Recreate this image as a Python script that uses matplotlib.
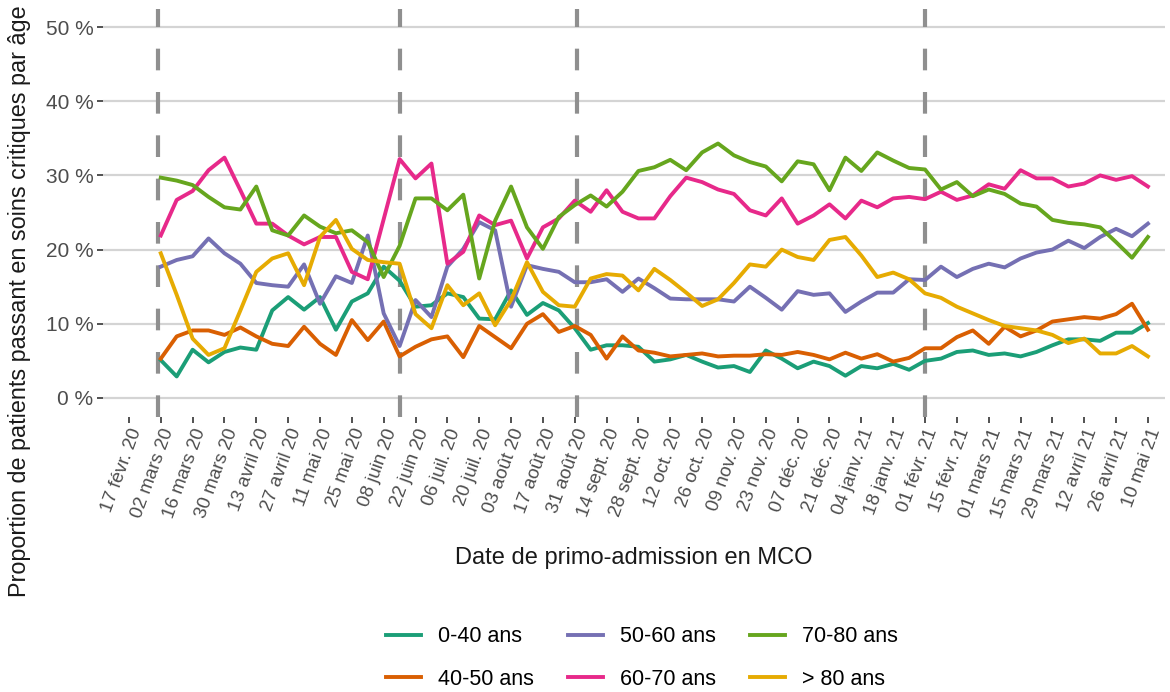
import matplotlib
matplotlib.use("Agg")
import matplotlib.pyplot as plt
import pandas as pd

plt.rcParams["font.family"] = ["Liberation Sans", "DejaVu Sans"]

# weekly admission dates (monday), 02 mars 2020 -> 10 mai 2021
weeks = pd.date_range("2020-03-02", periods=63, freq="7D")

age_labels = ["0-40 ans", "40-50 ans", "50-60 ans", "60-70 ans", "70-80 ans", "> 80 ans"]

# proportions in %
p_0_40 = [5.1, 2.9, 6.5, 4.8, 6.2, 6.8, 6.5, 11.8, 13.6, 11.9, 13.6, 9.2, 13.0, 14.1, 17.7, 15.8,
          12.3, 12.5, 14.1, 13.6, 10.7, 10.6, 14.5, 11.2, 12.8, 11.8, 9.4, 6.5, 7.1, 7.1, 6.9, 4.9,
          5.2, 5.8, 4.9, 4.1, 4.3, 3.5, 6.4, 5.3, 4.0, 4.9, 4.3, 3.0, 4.3, 4.0, 4.6, 3.8,
          5.0, 5.3, 6.2, 6.4, 5.8, 6.0, 5.6, 6.2, 7.1, 7.9, 7.9, 7.7, 8.8, 8.8, 10.1]
p_40_50 = [5.3, 8.3, 9.1, 9.1, 8.5, 9.5, 8.3, 7.3, 7.0, 9.6, 7.3, 5.8, 10.5, 7.8, 10.3, 5.6,
           6.9, 7.9, 8.3, 5.5, 9.7, 8.2, 6.7, 10.0, 11.3, 8.9, 9.7, 8.5, 5.3, 8.3, 6.4, 6.1,
           5.6, 5.8, 6.0, 5.6, 5.7, 5.7, 5.9, 5.8, 6.2, 5.8, 5.2, 6.1, 5.3, 5.9, 4.9, 5.4,
           6.7, 6.7, 8.2, 9.1, 7.3, 9.6, 8.3, 9.1, 10.3, 10.6, 10.9, 10.7, 11.3, 12.7, 9.2]
p_50_60 = [17.7, 18.6, 19.1, 21.5, 19.5, 18.1, 15.5, 15.2, 15.0, 18.0, 12.7, 16.4, 15.5, 21.9, 11.4, 7.0,
           13.2, 10.9, 17.7, 20.1, 23.7, 22.6, 12.3, 17.9, 17.4, 17.0, 15.6, 15.6, 16.0, 14.3, 16.1, 14.8,
           13.4, 13.3, 13.3, 13.3, 13.0, 15.0, 13.5, 11.9, 14.4, 13.9, 14.1, 11.6, 13.0, 14.2, 14.2, 16.0,
           15.9, 17.7, 16.3, 17.4, 18.1, 17.6, 18.8, 19.6, 20.0, 21.2, 20.2, 21.7, 22.8, 21.8, 23.5]
p_60_70 = [21.9, 26.7, 27.9, 30.7, 32.4, 28.0, 23.5, 23.5, 21.9, 20.7, 21.7, 21.7, 17.0, 16.0, 24.1, 32.2,
           29.6, 31.6, 18.1, 19.7, 24.6, 23.3, 23.9, 18.8, 23.0, 24.2, 26.6, 25.1, 28.0, 25.1, 24.2, 24.2,
           27.2, 29.7, 29.1, 28.1, 27.5, 25.3, 24.6, 26.9, 23.5, 24.6, 26.1, 24.2, 26.6, 25.7, 26.9, 27.1,
           26.8, 27.8, 26.7, 27.3, 28.8, 28.2, 30.7, 29.6, 29.6, 28.5, 28.9, 30.0, 29.4, 29.9, 28.5]
p_70_80 = [29.7, 29.3, 28.7, 27.1, 25.7, 25.4, 28.5, 22.6, 21.9, 24.6, 23.1, 22.2, 22.6, 21.0, 16.3, 20.5,
           26.9, 26.9, 25.3, 27.4, 16.1, 23.9, 28.5, 23.0, 20.1, 24.4, 26.0, 27.3, 25.8, 27.8, 30.6, 31.1,
           32.1, 30.7, 33.1, 34.3, 32.7, 31.8, 31.2, 29.2, 31.9, 31.5, 28.0, 32.4, 30.6, 33.1, 32.0, 31.0,
           30.8, 28.1, 29.1, 27.2, 28.1, 27.5, 26.2, 25.8, 24.0, 23.6, 23.4, 23.0, 21.0, 18.9, 21.7]
p_80_plus = [19.5, 13.9, 8.0, 5.8, 6.7, 11.8, 17.0, 18.8, 19.5, 15.2, 21.7, 24.0, 20.1, 18.6, 18.3, 18.1,
             11.3, 9.4, 15.2, 12.5, 14.1, 9.8, 13.2, 18.3, 14.3, 12.5, 12.3, 16.1, 16.7, 16.5, 14.5, 17.4,
             15.9, 14.2, 12.4, 13.3, 15.5, 18.0, 17.7, 20.0, 19.0, 18.6, 21.3, 21.7, 19.2, 16.3, 16.9, 16.0,
             14.1, 13.5, 12.3, 11.4, 10.5, 9.7, 9.4, 9.1, 8.5, 7.4, 8.0, 6.0, 6.0, 7.0, 5.6]

series = [p_0_40, p_40_50, p_50_60, p_60_70, p_70_80, p_80_plus]
# ggplot "Dark2"
colors = ["#1B9E77", "#D95F02", "#7570B3", "#E7298A", "#66A61E", "#E6AB02"]

tick_dates = pd.date_range("2020-02-17", "2021-05-10", freq="14D")
tick_labels = ["17 févr. 20", "02 mars 20", "16 mars 20", "30 mars 20", "13 avril 20", "27 avril 20",
               "11 mai 20", "25 mai 20", "08 juin 20", "22 juin 20", "06 juil. 20", "20 juil. 20",
               "03 août 20", "17 août 20", "31 août 20", "14 sept. 20", "28 sept. 20", "12 oct. 20",
               "26 oct. 20", "09 nov. 20", "23 nov. 20", "07 déc. 20", "21 déc. 20", "04 janv. 21",
               "18 janv. 21", "01 févr. 21", "15 févr. 21", "01 mars 21", "15 mars 21", "29 mars 21",
               "12 avril 21", "26 avril 21", "10 mai 21"]

# period boundaries (dashed)
period_dates = pd.to_datetime(["2020-03-01", "2020-06-15", "2020-09-01", "2021-02-01"])

y_ticks = [0, 10, 20, 30, 40, 50]
y_labels = ["0 %", "10 %", "20 %", "30 %", "40 %", "50 %"]

fig = plt.figure(figsize=(11.7, 6.92), dpi=100)
ax = fig.add_axes([103 / 1170, 1 - 416.5 / 692, (1165 - 103) / 1170, 408 / 692])

for d in period_dates:
    ax.axvline(d, color="#8F8F8F", lw=3.0, ls=(0, (5.2, 5.2)), zorder=2)

for vals, lab, col in zip(series, age_labels, colors):
    ax.plot(weeks, vals, color=col, lw=2.8, label=lab, zorder=3)

ax.set_ylim(-2.5, 52.5)
ax.set_xlim(pd.Timestamp("2020-02-17") - pd.Timedelta(days=11.4),
            pd.Timestamp("2021-05-10") + pd.Timedelta(days=7.5))
ax.set_yticks(y_ticks)
ax.set_yticklabels(y_labels)
ax.set_xticks(tick_dates)
ax.set_xticklabels(tick_labels, rotation=70, ha="right", va="top", rotation_mode="anchor")
ax.yaxis.grid(True, color="#D4D4D4", lw=1.6, zorder=0)
ax.xaxis.grid(False)
ax.set_axisbelow(True)
for s in ax.spines.values():
    s.set_visible(False)
ax.tick_params(axis="y", length=4, width=1.2, color="#333333", labelcolor="#4D4D4D",
               labelsize=15, pad=3)
ax.tick_params(axis="x", length=4, width=1.2, color="#333333", labelcolor="#4D4D4D",
               labelsize=13.5, pad=3)

ax.set_xlabel("Date de primo-admission en MCO", fontsize=17, color="#1A1A1A", labelpad=19)
fig.text(20 / 1170, 1 - 301 / 692, "Proportion de patients passant en soins critiques par âge",
         rotation=90, ha="center", va="center", fontsize=16.8, color="#1A1A1A")

fig.legend(*ax.get_legend_handles_labels(), loc="center", ncol=3,
           bbox_to_anchor=(642 / 1170, 1 - 658 / 692), frameon=False, fontsize=15.5,
           handlelength=1.6, handletextpad=0.8, columnspacing=1.6, labelspacing=1.0)

fig.savefig("out.png", dpi=100)
